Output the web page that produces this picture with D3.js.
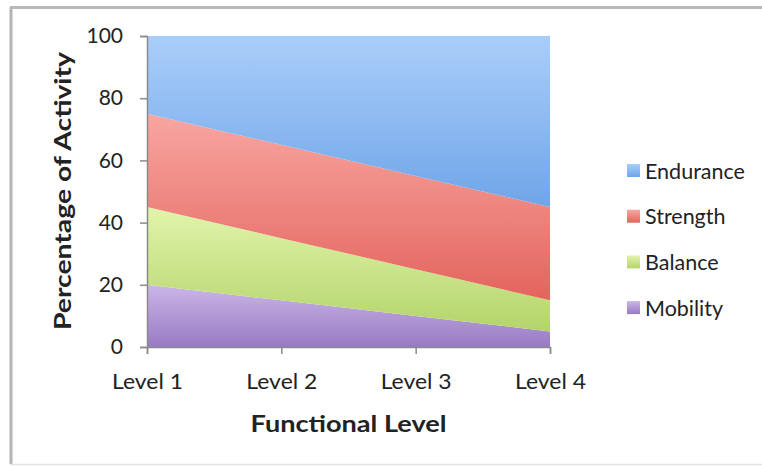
<!DOCTYPE html>
<html>
<head>
<meta charset="utf-8">
<script src="https://cdn.jsdelivr.net/npm/d3@7"></script>
<style>
  html, body { margin: 0; padding: 0; background: #fff; }
  svg { display: block; }
  text { font-family: Lato, "Open Sans", sans-serif; fill: #222; }
</style>
</head>
<body>
<svg id="chart" width="762" height="466"></svg>
<script>
// Activity mix by functional level (percent of total)
const levels = ["Level 1", "Level 2", "Level 3", "Level 4"];
const mobility = [20, 15, 10, 5];
const balance = [25, 20, 15, 10];
const strength = [30, 30, 30, 30];
const endurance = [25, 35, 45, 55];
const yTicks = [0, 20, 40, 60, 80, 100];
const seriesNames = ["Mobility", "Balance", "Strength", "Endurance"];

const palette = {
  Mobility:  ["#cbb6e8", "#977ac2"],
  Balance:   ["#e2f4ac", "#b3d46a"],
  Strength:  ["#f8a6a1", "#e3645d"],
  Endurance: ["#aacefa", "#6fa5e8"]
};

const rows = levels.map((lv, i) => ({
  level: lv,
  Mobility: mobility[i],
  Balance: balance[i],
  Strength: strength[i],
  Endurance: endurance[i]
}));

const svg = d3.select("#chart");

// outer frame
svg.append("line").attr("x1", 11).attr("x2", 11).attr("y1", 7).attr("y2", 464)
  .attr("stroke", "#b4b4b4").attr("stroke-width", 3);
svg.append("line").attr("x1", 10).attr("x2", 762).attr("y1", 7.5).attr("y2", 7.5)
  .attr("stroke", "#b8b8b8").attr("stroke-width", 3);
svg.append("line").attr("x1", 10).attr("x2", 762).attr("y1", 464.5).attr("y2", 464.5)
  .attr("stroke", "#e2e2e2").attr("stroke-width", 1.5);

const plot = { left: 147, right: 550, top: 36, bottom: 347 };

const x = d3.scalePoint().domain(levels).range([plot.left, plot.right]);
const y = d3.scaleLinear().domain([0, 100]).range([plot.bottom, plot.top]);

const stack = d3.stack().keys(seriesNames);
const layers = stack(rows);

const defs = svg.append("defs");
layers.forEach(layer => {
  const top = d3.max(layer, d => d[1]);
  const bottom = d3.min(layer, d => d[0]);
  const g = defs.append("linearGradient")
    .attr("id", "grad-" + layer.key)
    .attr("gradientUnits", "userSpaceOnUse")
    .attr("x1", 0).attr("x2", 0)
    .attr("y1", y(top)).attr("y2", y(bottom));
  g.append("stop").attr("offset", "0%").attr("stop-color", palette[layer.key][0]);
  g.append("stop").attr("offset", "100%").attr("stop-color", palette[layer.key][1]);
  const lg = defs.append("linearGradient")
    .attr("id", "lgrad-" + layer.key)
    .attr("x1", 0).attr("x2", 0).attr("y1", 0).attr("y2", 1);
  lg.append("stop").attr("offset", "0%").attr("stop-color", palette[layer.key][0]);
  lg.append("stop").attr("offset", "100%").attr("stop-color", palette[layer.key][1]);
});

const area = d3.area()
  .x(d => x(d.data.level))
  .y0(d => y(d[0]))
  .y1(d => y(d[1]));

svg.append("g").selectAll("path")
  .data(layers)
  .join("path")
  .attr("d", area)
  .attr("fill", d => `url(#grad-${d.key})`);

// y axis
const yAxis = svg.append("g")
  .attr("transform", `translate(${plot.left},0)`)
  .call(d3.axisLeft(y).tickValues(yTicks).tickSize(7).tickPadding(17).tickFormat(d3.format("d")));
yAxis.attr("font-family", null).attr("font-size", null);
yAxis.select(".domain").attr("stroke", "#8a8a8a").attr("stroke-width", 1.5);
yAxis.selectAll(".tick line").attr("stroke", "#8a8a8a").attr("stroke-width", 1.5);
yAxis.selectAll(".tick text").style("font-size", "21px").attr("fill", "#222");

// x axis
const xAxis = svg.append("g")
  .attr("transform", `translate(0,${plot.bottom})`)
  .call(d3.axisBottom(x).tickSize(7).tickPadding(20));
xAxis.attr("font-family", null).attr("font-size", null);
xAxis.select(".domain").attr("stroke", "#8a8a8a").attr("stroke-width", 1.5);
xAxis.selectAll(".tick line").attr("stroke", "#8a8a8a").attr("stroke-width", 1.5);
xAxis.selectAll(".tick text").style("font-size", "21px").attr("fill", "#222")
  .attr("textLength", 71).attr("lengthAdjust", "spacingAndGlyphs");

// axis titles
svg.append("text")
  .attr("x", (plot.left + plot.right) / 2)
  .attr("y", 432)
  .attr("text-anchor", "middle")
  .attr("textLength", 196)
  .attr("lengthAdjust", "spacingAndGlyphs")
  .style("font-size", "23px").style("font-weight", "bold")
  .text("Functional Level");

svg.append("text")
  .attr("transform", `translate(71,${191}) rotate(-90)`)
  .attr("text-anchor", "middle")
  .attr("textLength", 278)
  .attr("lengthAdjust", "spacingAndGlyphs")
  .style("font-size", "23px").style("font-weight", "bold")
  .text("Percentage of Activity");

// legend, topmost layer first
const legendOrder = seriesNames.slice().reverse();
const legend = svg.append("g").selectAll("g")
  .data(legendOrder)
  .join("g")
  .attr("transform", (d, i) => `translate(627,${171 + i * 45.7})`);
legend.append("rect")
  .attr("x", 0).attr("y", -7).attr("width", 13).attr("height", 13)
  .attr("fill", d => `url(#lgrad-${d})`);
legend.append("text")
  .attr("x", 18).attr("y", 0).attr("dy", "0.35em")
  .style("font-size", "21.5px")
  .text(d => d);
</script>
</body>
</html>
